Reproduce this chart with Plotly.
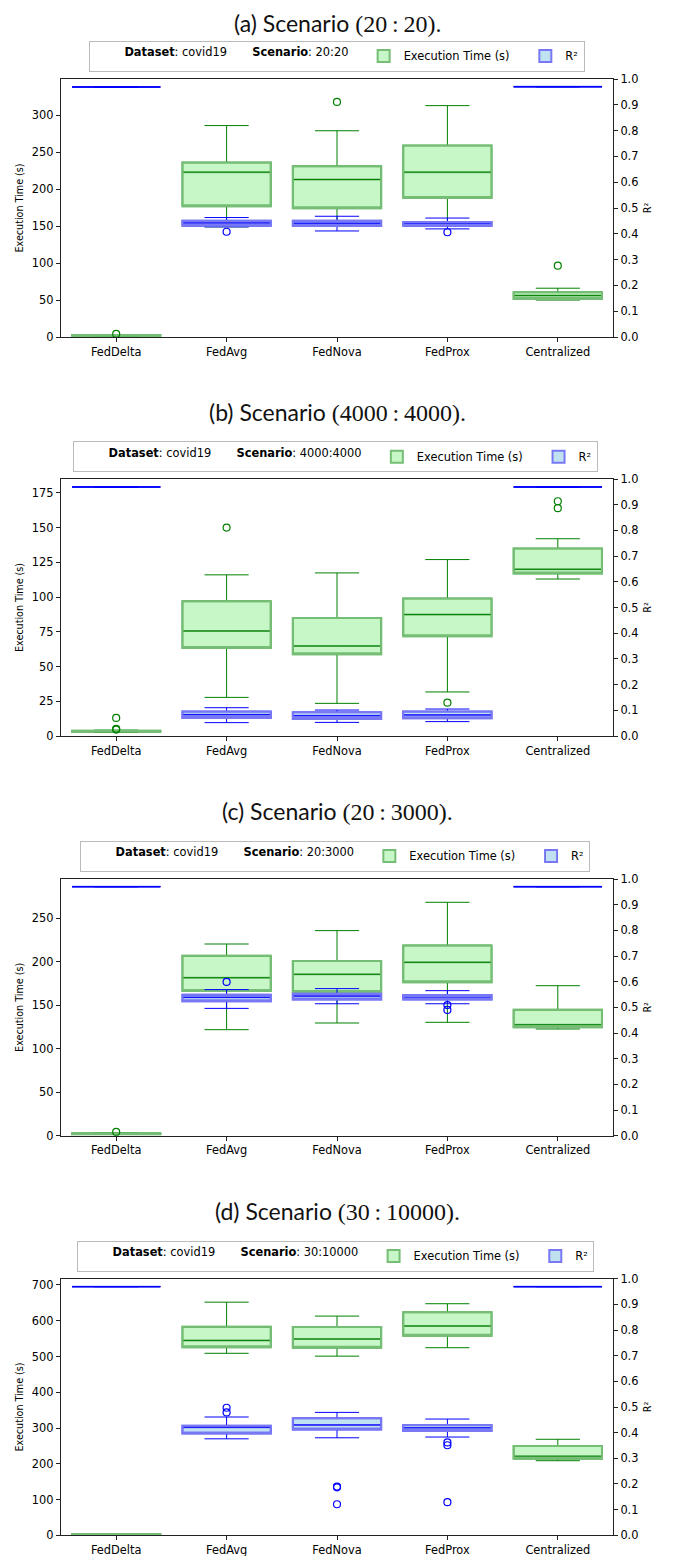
import plotly.graph_objects as go

# ---------------- data ----------------
methods = ["FedDelta", "FedAvg", "FedNova", "FedProx", "Centralized"]
scenarios = ["20:20", "4000:4000", "20:3000", "30:10000"]
panel_letters = ["a", "b", "c", "d"]
dataset_name = "covid19"

# Execution time box stats per method: (lower whisker, q1, median, q3, upper whisker)
time_a = [(1.5, 1.8, 2.3, 2.8, 3.2), (149, 177, 223, 236, 286), (152, 174, 213, 231, 279),
          (155, 188, 223, 259, 313), (50, 51.5, 56, 60.5, 66)]
time_b = [(2.5, 3.0, 3.4, 3.8, 4.2), (27.8, 63.4, 75.6, 97, 116), (23.5, 58.8, 64.8, 85, 117.4),
          (31.7, 71.8, 87.4, 99, 127), (113, 117, 120, 135, 142)]
time_c = [(1.5, 1.8, 2.3, 2.8, 3.2), (122, 166.5, 181.8, 207, 220.6), (129.7, 165.4, 185.7, 201, 236),
          (130.5, 176.5, 199.5, 219, 268.6), (122.8, 124.7, 127.7, 145, 172.6)]
time_d = [(2.0, 2.5, 3.0, 3.5, 4.0), (509, 526, 545, 583, 652), (501, 524.6, 549, 582.6, 613),
          (524.6, 558.3, 585.3, 623.6, 647.6), (208.6, 214.3, 221, 249.7, 268.5)]

# Execution time outliers (method, value)
time_a_out = [("FedDelta", 4.2), ("FedNova", 318), ("Centralized", 96.5)]
time_b_out = [("FedDelta", 13.0), ("FedDelta", 5.2), ("FedDelta", 4.6), ("FedAvg", 150),
              ("FedProx", 24), ("Centralized", 169), ("Centralized", 164)]
time_c_out = [("FedDelta", 4.3)]
time_d_out = []

# R² box stats per method: (lower whisker, q1, median, q3, upper whisker)
r2_a = [(0.969, 0.969, 0.969, 0.969, 0.969), (0.427, 0.431, 0.442, 0.451, 0.463),
        (0.411, 0.430, 0.441, 0.451, 0.468), (0.419, 0.431, 0.439, 0.446, 0.461),
        (0.970, 0.970, 0.970, 0.970, 0.970)]
r2_b = [(0.969, 0.969, 0.969, 0.969, 0.969), (0.052, 0.070, 0.083, 0.095, 0.110),
        (0.053, 0.066, 0.079, 0.092, 0.101), (0.056, 0.069, 0.082, 0.095, 0.105),
        (0.969, 0.969, 0.969, 0.969, 0.969)]
r2_c = [(0.970, 0.970, 0.970, 0.970, 0.970), (0.496, 0.524, 0.539, 0.549, 0.569),
        (0.514, 0.531, 0.544, 0.553, 0.573), (0.514, 0.531, 0.539, 0.548, 0.565),
        (0.970, 0.970, 0.970, 0.970, 0.970)]
r2_d = [(0.969, 0.969, 0.969, 0.969, 0.969), (0.376, 0.397, 0.421, 0.427, 0.461),
        (0.380, 0.412, 0.430, 0.456, 0.479), (0.383, 0.406, 0.419, 0.430, 0.453),
        (0.969, 0.969, 0.969, 0.969, 0.969)]

r2_a_out = [("FedAvg", 0.408), ("FedProx", 0.406)]
r2_b_out = []
r2_c_out = [("FedAvg", 0.599), ("FedProx", 0.509), ("FedProx", 0.490)]
r2_d_out = [("FedAvg", 0.497), ("FedAvg", 0.479), ("FedNova", 0.190), ("FedNova", 0.187),
            ("FedNova", 0.121), ("FedProx", 0.362), ("FedProx", 0.351), ("FedProx", 0.129)]

time_ranges = [349, 185, 295.4, 717.6]
time_ticks = [list(range(0, 301, 50)), list(range(0, 176, 25)),
              list(range(0, 251, 50)), list(range(0, 701, 100))]
r2_ticks = [i / 10 for i in range(11)]

time_stats = [time_a, time_b, time_c, time_d]
time_outs = [time_a_out, time_b_out, time_c_out, time_d_out]
r2_stats = [r2_a, r2_b, r2_c, r2_d]
r2_outs = [r2_a_out, r2_b_out, r2_c_out, r2_d_out]

# ---------------- layout geometry (window pixels; page body has an 8px margin) ----------------
OFF = 8
W, H = 673 - OFF, 1556 - OFF
PLOT_L, PLOT_R = 61, 613.3
ML, MR = PLOT_L - OFF, (673 - PLOT_R)
plot_px = [(79, 337), (479, 736), (879, 1135.7), (1278.7, 1535.3)]
title_px = [23, 412, 811, 1211]
legend_px = [56, 456.7, 856, 1256]
legend_left_px = [88.8, 73, 80, 77]

GREEN_FILL = "rgb(199,246,199)"
GREEN_EDGE = "rgb(118,190,118)"
GREEN = "#008000"
BLUE_FILL = "rgb(192,226,240)"
BLUE_EDGE = "rgb(120,120,245)"
BLUE = "#0000ff"
NB = "\u00a0"


def fy(px):
    """window pixel row -> paper fraction"""
    return 1 - (px - OFF) / H


TICKFONT = dict(family="DejaVu Sans", size=11.4, color="#000")
fig = go.Figure()


def add_boxes(stats, outs, xa, ya, fill, edge, solid, name, legend_name):
    lo = [s[0] for s in stats]
    q1 = [s[1] for s in stats]
    med = [s[2] for s in stats]
    q3 = [s[3] for s in stats]
    hi = [s[4] for s in stats]
    common = dict(x=methods, xaxis=xa, yaxis=ya, width=0.8, boxpoints=False,
                  hoverinfo="skip", legend=legend_name)
    # body: fill + soft edge
    fig.add_trace(go.Box(q1=q1, median=med, q3=q3, lowerfence=q1, upperfence=q3,
                         fillcolor=fill, line=dict(color=edge, width=2), whiskerwidth=0,
                         name=name, showlegend=True, **common))
    # solid whiskers, caps and median
    fig.add_trace(go.Box(q1=q1, median=med, q3=q3, lowerfence=lo, upperfence=hi,
                         fillcolor="rgba(0,0,0,0)", line=dict(color=solid, width=1),
                         whiskerwidth=0.5, name=name + " whiskers", showlegend=False, **common))
    # soft edge redrawn on top of the thin outline (only non-flat boxes)
    keep = [i for i in range(len(methods)) if q3[i] > q1[i]]
    c = dict(common)
    c["x"] = [methods[i] for i in keep]
    fig.add_trace(go.Box(q1=[q1[i] for i in keep], median=[q1[i] for i in keep],
                         q3=[q3[i] for i in keep], lowerfence=[q1[i] for i in keep],
                         upperfence=[q3[i] for i in keep],
                         fillcolor="rgba(0,0,0,0)", line=dict(color=edge, width=2),
                         whiskerwidth=0, name=name + " edge", showlegend=False, **c))
    if outs:
        fig.add_trace(go.Scatter(x=[o[0] for o in outs], y=[o[1] for o in outs],
                                 xaxis=xa, yaxis=ya, mode="markers", hoverinfo="skip",
                                 marker=dict(symbol="circle-open", size=7, color=solid,
                                             line=dict(width=1.2)),
                                 showlegend=False, legend=legend_name))


layout = dict(
    width=W, height=H, margin=dict(l=ML, r=MR, t=0, b=0, autoexpand=False),
    paper_bgcolor="white", plot_bgcolor="white", boxmode="overlay",
    font=dict(family="DejaVu Sans", size=11.4, color="#000"),
    annotations=[],
)

for i, scen in enumerate(scenarios):
    xa = "x" if i == 0 else f"x{i + 1}"
    yl = "y" if i == 0 else f"y{2 * i + 1}"
    yr = f"y{2 * i + 2}"
    lg = "legend" if i == 0 else f"legend{i + 1}"
    top, bot = plot_px[i]
    dom = [fy(bot), fy(top)]

    add_boxes(time_stats[i], time_outs[i], xa, yl, GREEN_FILL, GREEN_EDGE, GREEN,
              "Execution Time (s)" + NB * 3, lg)
    add_boxes(r2_stats[i], r2_outs[i], xa, yr, BLUE_FILL, BLUE_EDGE, BLUE, "R²", lg)

    xkey = "xaxis" if i == 0 else f"xaxis{i + 1}"
    ylkey = "yaxis" if i == 0 else f"yaxis{2 * i + 1}"
    yrkey = f"yaxis{2 * i + 2}"
    axis_common = dict(showgrid=False, zeroline=False, showline=True, linecolor="#222",
                       linewidth=1.2, ticks="outside", ticklen=4, tickcolor="#222",
                       tickfont=TICKFONT, automargin=False, fixedrange=True)
    layout[xkey] = dict(domain=[0, 1], anchor=yl, type="category", categoryorder="array",
                        categoryarray=methods, range=[-0.5, 4.5], mirror=True, **axis_common)
    layout[ylkey] = dict(domain=dom, anchor=xa, range=[0, time_ranges[i]],
                         tickvals=time_ticks[i],
                         title=dict(text="Execution Time (s)",
                                    font=dict(family="DejaVu Sans", size=9.6), standoff=6),
                         **axis_common)
    layout[yrkey] = dict(domain=dom, anchor=xa, overlaying=yl, side="right", range=[0, 1],
                         tickvals=r2_ticks, tickformat=".1f",
                         title=dict(text="R²", font=dict(family="DejaVu Sans", size=9.6),
                                    standoff=6),
                         **axis_common)
    legend_title = (NB * 9 + f"<b>Dataset</b>: {dataset_name}" + NB * 7 +
                    f"<b>Scenario</b>: {scen}" + NB * 2)
    layout[lg] = dict(orientation="h", x=(legend_left_px[i] - PLOT_L) / (PLOT_R - PLOT_L),
                      xanchor="left", y=fy(legend_px[i]), yanchor="middle",
                      bordercolor="#bbbbbb", borderwidth=1, bgcolor="white",
                      title=dict(text=legend_title, side="left",
                                 font=dict(family="DejaVu Sans", size=11.4, color="#000")),
                      font=dict(family="DejaVu Sans", size=11.4, color="#000"),
                      traceorder="normal", itemclick=False, itemdoubleclick=False)
    left, right = scen.split(":")
    layout["annotations"].append(dict(
        text=(f"({panel_letters[i]}) Scenario "
              f"<span style='font-family:Liberation Serif;font-size:24px'>"
              f"({left}\u2009:\u2009{right}).</span>"),
        x=0.5, xref="paper", y=fy(title_px[i]), yref="paper", xanchor="center",
        yanchor="middle", showarrow=False, font=dict(family="Lato", size=23, color="#111")))

fig.update_layout(**layout)
fig.write_html("out.html")
